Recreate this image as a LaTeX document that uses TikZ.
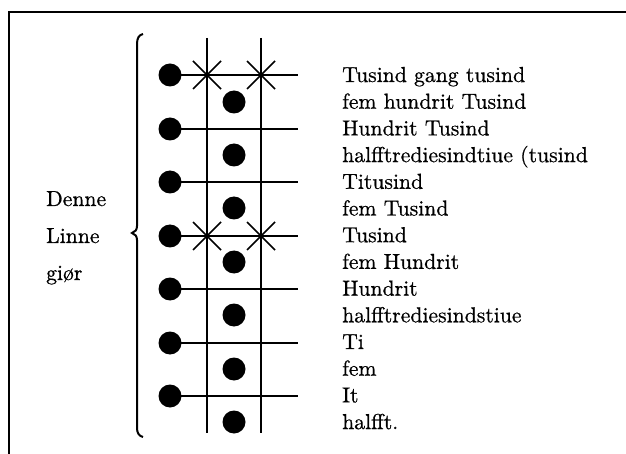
\documentclass[tikz,border=0pt]{standalone}
\usepackage{graphicx}
\usepackage{fontspec}
\newfontfamily\inkfont{Latin Modern Roman}[FakeBold=0.7]
\newcommand\wordbox[1]{\scalebox{2.17}{\fontsize{10}{12}\inkfont #1}}
\begin{document}
\begin{tikzpicture}[x=1pt,y=-1pt,
  rule/.style={line width=2pt},
  bead/.style={circle,fill=black,inner sep=0pt,minimum size=23pt},
  cross/.style={line width=1.7pt},
  word/.style={anchor=base west,inner sep=0pt}]
\useasboundingbox (0,0) rectangle (626,454);
% frame
\coordinate (fa) at (9,454);
\coordinate (fb) at (9,12);
\coordinate (fc) at (626,12);
\draw[line width=2pt] (fa) -- (fb) -- (fc);
% vertical rules
\foreach \i/\x in {1/207,2/261}{
  \coordinate (vt\i) at (\x,38);
  \coordinate (vb\i) at (\x,433);
  \draw[rule] (vt\i) -- (vb\i);
}
% rows: left beads with horizontal rules, right beads between
\foreach \k/\ya/\yb in {0/75/102,1/129/155,2/182/208,3/236/262,4/289/315,5/343/369,6/396/422}{
  \node[bead] (l\k) at (170,\ya) {};
  \coordinate (e\k) at (298,\ya);
  \draw[rule] (l\k.center) -- (e\k);
  \node[bead] (r\k) at (234,\yb) {};
}
% crossed intersections
\foreach \k in {0,3}{
  \foreach \i in {1,2}{
    \coordinate (c\k\i) at (vt\i |- l\k);
    \draw[cross] ([shift={(-14,-14)}]c\k\i) -- ([shift={(14,14)}]c\k\i);
    \draw[cross] ([shift={(-14,14)}]c\k\i) -- ([shift={(14,-14)}]c\k\i);
  }
}
% brace
\draw[line width=2pt] (143,34) .. controls (139,35) and (137,38) .. (137,44)
  -- (137,226) .. controls (137,230) and (135,232) .. (132,233)
  .. controls (135,234) and (137,236) .. (137,240)
  -- (137,428) .. controls (137,433) and (139,436) .. (143,437);
% left labels
\node[word] (d1) at (46,206) {\wordbox{Denne}};
\node[word] (d2) at (46,243) {\wordbox{Linne}};
\node[word] (d3) at (46,280) {\wordbox{giør}};
% right labels
\foreach \t [count=\n from 0] in {Tusind gang tusind,fem hundrit Tusind,Hundrit Tusind,halfftrediesindtiue (tusind,Titusind,fem Tusind,Tusind,fem Hundrit,Hundrit,halfftrediesindstiue,Ti,fem,It,halfft.}{
  \pgfmathsetmacro{\yt}{82+26.7*\n}
  \node[word] (t\n) at (342,\yt) {\wordbox{\t}};
}
\end{tikzpicture}
\end{document}
